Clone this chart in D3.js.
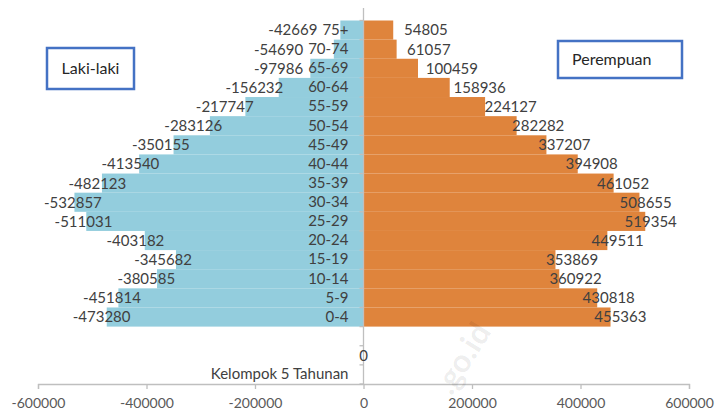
<!DOCTYPE html>
<html>
<head>
<meta charset="utf-8">
<script src="https://cdn.jsdelivr.net/npm/d3@7"></script>
<style>
  html, body { margin: 0; padding: 0; background: #ffffff; }
  svg { display: block; font-family: Lato, "Open Sans", sans-serif; }
</style>
</head>
<body>
<svg id="chart" width="715" height="412"></svg>
<script>
// ---- data ----
const ageGroups = ["75+", "70-74", "65-69", "60-64", "55-59", "50-54", "45-49", "40-44",
                   "35-39", "30-34", "25-29", "20-24", "15-19", "10-14", "5-9", "0-4"];
const maleValues = [-42669, -54690, -97986, -156232, -217747, -283126, -350155, -413540,
                    -482123, -532857, -511031, -403182, -345682, -380585, -451814, -473280];
const femaleValues = [54805, 61057, 100459, 158936, 224127, 282282, 337207, 394908,
                      461052, 508655, 519354, 449511, 353869, 360922, 430818, 455363];
const extraRows = ["__blank1", "__blank2", "Kelompok 5 Tahunan"];
const extraRowLabels = ["", "0", ""];
const xTickValues = [-600000, -400000, -200000, 0, 200000, 400000, 600000];
const seriesNames = ["Laki-laki", "Perempuan"];

// ---- scales ----
const svg = d3.select("#chart");
const x = d3.scaleLinear().domain([-600000, 600000]).range([38, 689]);
const allRows = ageGroups.concat(extraRows);
const y = d3.scaleBand().domain(allRows).range([20.5, 384]).padding(0);
const x0 = x(0);

const blue = "#93CDDD";
const orange = "#DF843C";
const textCol = "#404040";

// bars
const rows = ageGroups.map((g, i) => ({ g, m: maleValues[i], f: femaleValues[i] }));
svg.append("g").selectAll("rect.m").data(rows).join("rect")
  .attr("x", d => x(d.m)).attr("y", d => y(d.g))
  .attr("width", d => x0 - x(d.m)).attr("height", y.bandwidth())
  .attr("fill", blue);
svg.append("g").selectAll("rect.f").data(rows).join("rect")
  .attr("x", x0).attr("y", d => y(d.g))
  .attr("width", d => x(d.f) - x0).attr("height", y.bandwidth())
  .attr("fill", orange);

// x axis
const xAxis = d3.axisBottom(x).tickValues(xTickValues).tickSize(5).tickPadding(9)
  .tickFormat(d => String(d));
const gx = svg.append("g").attr("transform", "translate(0,384)").call(xAxis);
gx.select(".domain").attr("stroke", "#bfbfbf").attr("stroke-width", 1.3);
gx.selectAll(".tick line").attr("stroke", "#bfbfbf").attr("stroke-width", 1.3);
gx.selectAll(".tick text").attr("fill", "#595959").attr("font-size", 14)
  .attr("font-family", "Lato, sans-serif");

// y axis (category labels)
const yAxis = d3.axisLeft(y).tickSize(0).tickPadding(15)
  .tickFormat(d => d.startsWith("__") ? "" : d);
const gy = svg.append("g").attr("transform", `translate(${x0},0)`).call(yAxis);
gy.select(".domain").remove();
gy.selectAll(".tick text").attr("fill", textCol).attr("font-size", 15)
  .attr("font-family", "Lato, sans-serif");
// vertical axis line
svg.append("line").attr("x1", x0).attr("x2", x0).attr("y1", 8).attr("y2", 384)
  .attr("stroke", "#bfbfbf").attr("stroke-width", 1.3);
// boundary ticks
const bounds = allRows.map(r => y(r)).concat([y.range()[1]]);
svg.append("g").selectAll("line").data(bounds).join("line")
  .attr("x1", x0 - 4).attr("x2", x0).attr("y1", d => d).attr("y2", d => d)
  .attr("stroke", "#bfbfbf").attr("stroke-width", 1.3);

// category label left edges (to keep male labels clear of them)
const catLeft = {};
gy.selectAll(".tick").each(function(d) {
  const t = d3.select(this).select("text").node();
  catLeft[d] = x0 - 15 - t.getComputedTextLength();
});

// data labels
const labM = d3.scaleLinear().domain([0, 600000]).range([x0 - 5, x0 - 5 - 289]);
const labF = d3.scaleLinear().domain([0, 600000]).range([x0 + 14.6, x0 + 14.6 + 284.8]);
svg.append("g").selectAll("text").data(rows).join("text")
  .attr("x", d => Math.min(labM(-d.m), catLeft[d.g] - 5))
  .attr("y", d => y(d.g) + y.bandwidth() / 2)
  .attr("dy", "0.36em").attr("text-anchor", "end")
  .attr("font-size", 15).attr("fill", textCol).text(d => d.m);
svg.append("g").selectAll("text").data(rows).join("text")
  .attr("x", d => labF(d.f)).attr("y", d => y(d.g) + y.bandwidth() / 2)
  .attr("dy", "0.36em").attr("text-anchor", "start")
  .attr("font-size", 15).attr("fill", textCol).text(d => d.f);
// extra row labels (the "0")
svg.append("g").selectAll("text").data(extraRows.map((r, i) => ({ r, t: extraRowLabels[i] })))
  .join("text")
  .attr("x", x0).attr("y", d => y(d.r) + y.bandwidth() / 2)
  .attr("dy", "0.36em").attr("text-anchor", "middle")
  .attr("font-size", 15).attr("fill", textCol).text(d => d.t);

// legend boxes
const legends = [
  { name: seriesNames[0], x: 47, y: 48, w: 87, h: 41, anchor: "middle" },
  { name: seriesNames[1], x: 558, y: 41, w: 124, h: 37, anchor: "start" }
];
legends.forEach(l => {
  svg.append("rect").attr("x", l.x).attr("y", l.y).attr("width", l.w).attr("height", l.h)
    .attr("fill", "#fff").attr("stroke", "#4472C4").attr("stroke-width", 2.5);
  svg.append("text")
    .attr("x", l.anchor === "middle" ? l.x + l.w / 2 : l.x + 14)
    .attr("y", l.y + l.h / 2).attr("dy", "0.36em")
    .attr("text-anchor", l.anchor).attr("font-size", 16).attr("fill", "#262626")
    .text(l.name);
});

// faint watermark
svg.append("text").attr("transform", "translate(462,358) rotate(-58)")
  .attr("text-anchor", "middle").attr("dy", "0.36em")
  .attr("font-size", 32).attr("font-weight", "bold").attr("fill", "#000")
  .attr("fill-opacity", 0.08).text(".go.id");
</script>
</body>
</html>
